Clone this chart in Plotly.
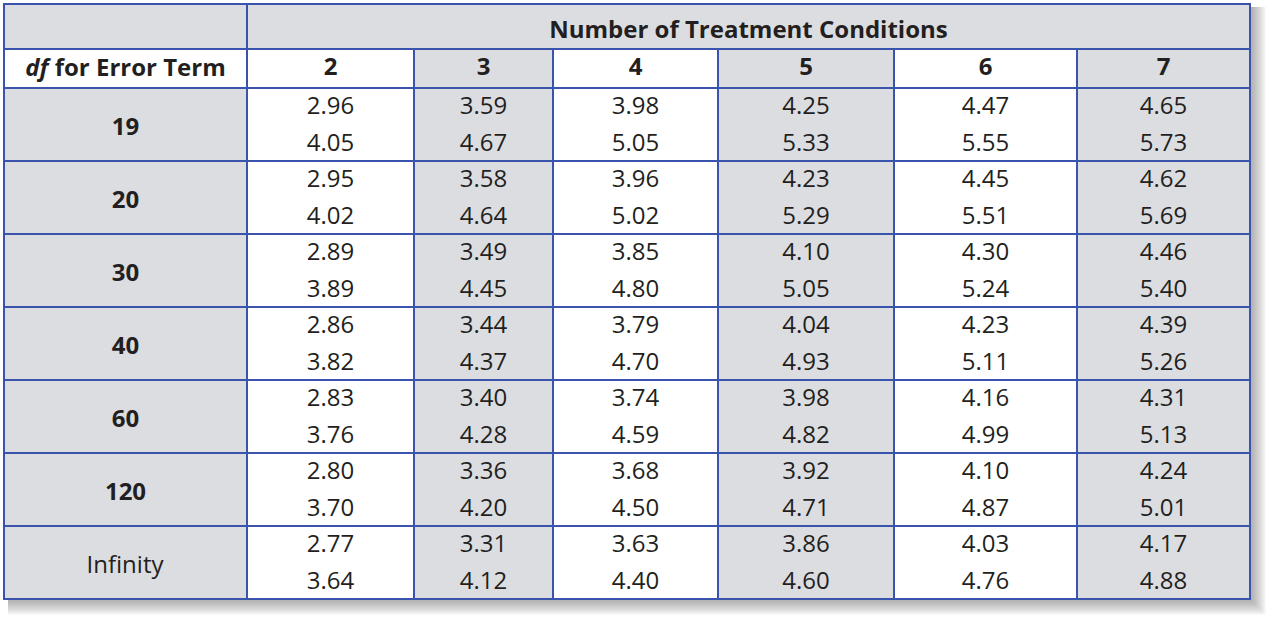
import plotly.graph_objects as go

# data
df_labels = ['<b>19</b>', '<b>20</b>', '<b>30</b>', '<b>40</b>', '<b>60</b>', '<b>120</b>', '<span>Infinity</span>']
k_labels = ['2', '3', '4', '5', '6', '7']
# critical values, upper = .05, lower = .01, per column k
crit_05 = {
    '2': [2.96, 2.95, 2.89, 2.86, 2.83, 2.80, 2.77],
    '3': [3.59, 3.58, 3.49, 3.44, 3.40, 3.36, 3.31],
    '4': [3.98, 3.96, 3.85, 3.79, 3.74, 3.68, 3.63],
    '5': [4.25, 4.23, 4.10, 4.04, 3.98, 3.92, 3.86],
    '6': [4.47, 4.45, 4.30, 4.23, 4.16, 4.10, 4.03],
    '7': [4.65, 4.62, 4.46, 4.39, 4.31, 4.24, 4.17],
}
crit_01 = {
    '2': [4.05, 4.02, 3.89, 3.82, 3.76, 3.70, 3.64],
    '3': [4.67, 4.64, 4.45, 4.37, 4.28, 4.20, 4.12],
    '4': [5.05, 5.02, 4.80, 4.70, 4.59, 4.50, 4.40],
    '5': [5.33, 5.29, 5.05, 4.93, 4.82, 4.71, 4.60],
    '6': [5.55, 5.51, 5.24, 5.11, 4.99, 4.87, 4.76],
    '7': [5.73, 5.69, 5.40, 5.26, 5.13, 5.01, 4.88],
}

W, H = 1275, 620
GREY = '#dcdde1'
WHITE = '#ffffff'
BLUE = '#3a54ad'
TXT = '#231f20'
CLEAR = 'rgba(0,0,0,0)'
FONT = 'Open Sans'
col_w = [243, 167, 139, 165, 176, 183, 173]
col_fill = [GREY, WHITE, GREY, WHITE, GREY, WHITE, GREY]
left, right, top = 4, 1250, 4
row1_h, row2_h, row_h = 45, 39, 73
bottom = top + row1_h + row2_h + 7 * row_h

def py(px):
    return 1 - px / H

xdom = [left / W, right / W]

fig = go.Figure()

# soft drop shadow
for d in range(1, 17):
    fig.add_shape(type='rect', xref='paper', yref='paper',
                  x0=(left + 4) / W, x1=(right + d) / W,
                  y0=py(bottom + d), y1=py(top + 3),
                  fillcolor='#555555', opacity=0.035, line_width=0, layer='below')

# top header row (blank cell row is hidden under the next table)
fig.add_trace(go.Table(
    domain=dict(x=xdom, y=[py(top + row1_h + row2_h), py(top)]),
    columnwidth=[col_w[0], sum(col_w[1:])],
    header=dict(values=['', '<b>Number of Treatment Conditions</b>'],
                height=row1_h, fill_color=GREY, line=dict(color=BLUE, width=2),
                font=dict(family=FONT, size=24, color=TXT), align='center'),
    cells=dict(values=[[''], ['']], height=row2_h,
               fill_color=CLEAR, line=dict(color=CLEAR, width=0))
))

# values (two sub-rows per df)
cols = [[''] * 14]
for k in k_labels:
    c = []
    for a, b in zip(crit_05[k], crit_01[k]):
        c += [f'{a:.2f}', f'{b:.2f}']
    cols.append(c)
head_fill = [WHITE] + col_fill[1:]
fig.add_trace(go.Table(
    domain=dict(x=xdom, y=[0, py(top + row1_h)]),
    columnwidth=col_w,
    header=dict(values=[''] + k_labels,
                height=row2_h, fill_color=head_fill,
                line=dict(color=head_fill, width=1),
                font=dict(family=FONT, size=24, color=TXT, weight='bold'), align='center'),
    cells=dict(values=cols, height=row_h / 2, fill_color=col_fill,
               line=dict(color=col_fill, width=1),
               font=dict(family=FONT, size=24, color=TXT), align='center')
))

# first column: caption + row labels, centred on each df row
lab_top = 42
fig.add_trace(go.Table(
    domain=dict(x=[left / W, (left + col_w[0]) / W], y=[0, py(lab_top)]),
    columnwidth=[col_w[0]],
    header=dict(values=['<b><i>df</i> for Error Term</b>'], height=59, fill_color=CLEAR,
                line=dict(color=CLEAR, width=0),
                font=dict(family=FONT, size=24, color=TXT), align='center'),
    cells=dict(values=[df_labels], height=row_h, fill_color=CLEAR,
               line=dict(color=CLEAR, width=0),
               font=dict(family=FONT, size=24, color=TXT), align='center')
))

# grid lines
fig.add_trace(go.Table(
    domain=dict(x=xdom, y=[0, py(top + row1_h)]),
    columnwidth=col_w,
    header=dict(values=[''] * 7, height=row2_h, fill_color=CLEAR,
                line=dict(color=BLUE, width=2)),
    cells=dict(values=[[''] * 7 for _ in range(7)], height=row_h,
               fill_color=CLEAR, line=dict(color=BLUE, width=2))
))

fig.update_layout(width=W, height=H, margin=dict(l=0, r=0, t=0, b=0),
                  paper_bgcolor='white', showlegend=False)
fig.write_html('out.html', config={'displayModeBar': False},
               post_script="document.body.style.margin='0';")
